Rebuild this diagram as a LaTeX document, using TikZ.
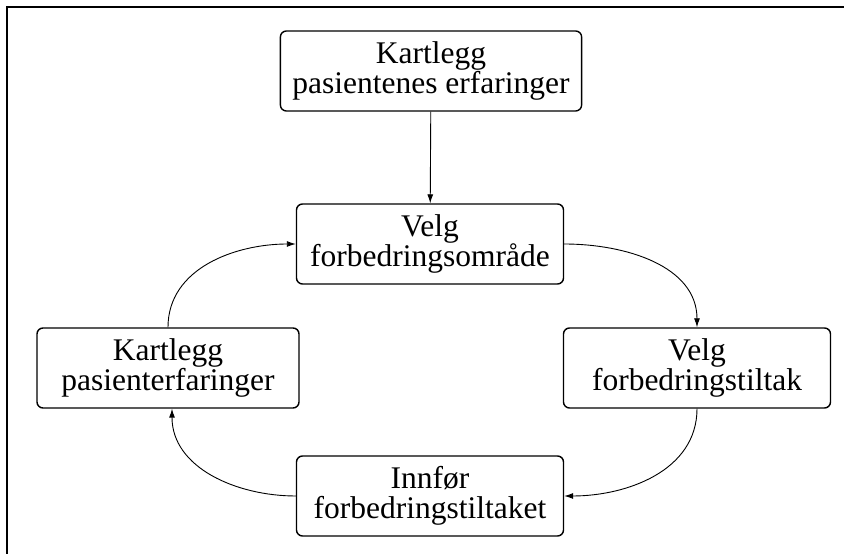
\documentclass[tikz,border=0pt]{standalone}
\usepackage{fontspec}
\setmainfont{Liberation Serif}
\usetikzlibrary{arrows.meta}
\begin{document}
\begin{tikzpicture}[x = 1pt, y = 1pt,
  boks/.style = {draw, line width = 1.4pt, rounded corners = 6pt, align = center,
    minimum width = 267pt, minimum height = 80pt, inner xsep = 12pt,
    font = \fontsize{31.5}{30}\selectfont},
  pil/.style = {line width = 0.9pt, -{Latex[length = 9pt, width = 6pt]}}]
\useasboundingbox (0,0) rectangle (844,554);
\draw[line width = 1.4pt] (7,0) -- (7,547) -- (844,547);
\node[boks] (kartlegg) at (431, 483) {Kartlegg\\pasientenes erfaringer};
\node[boks] (omrade) at (430, 310) {Velg\\forbedringsområde};
\node[boks] (tiltak) at (697, 186) {Velg\\forbedringstiltak};
\node[boks] (innfor) at (430, 58) {Innfør\\forbedringstiltaket};
\node[boks, minimum width = 262pt] (pasient) at (168, 186) {Kartlegg\\pasienterfaringer};
\draw[pil] (kartlegg) -- (omrade);
\draw[pil] (omrade.east) to[out = 0, in = 90] (tiltak.north);
\draw[pil] (tiltak.south) to[out = -90, in = 0] (innfor.east);
\draw[pil] (innfor.west) to[out = 180, in = -90] ([xshift = 4pt]pasient.south);
\draw[pil] (pasient.north) to[out = 90, in = 180] (omrade.west);
\end{tikzpicture}
\end{document}
